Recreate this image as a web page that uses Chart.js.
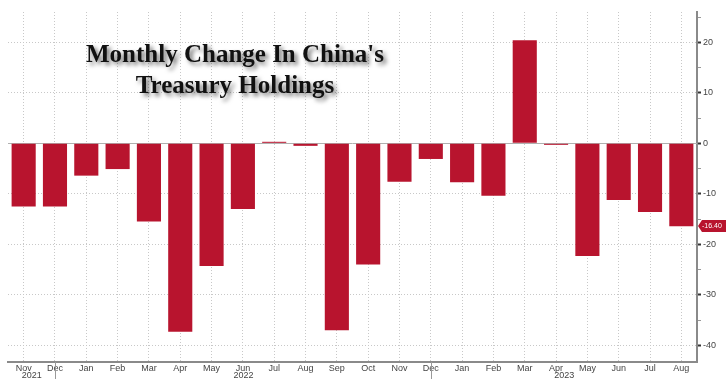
<!DOCTYPE html>
<html>
<head>
<meta charset="utf-8">
<script src="https://cdn.jsdelivr.net/npm/chart.js@4.4.0/dist/chart.umd.min.js"></script>
<style>
    html, body { margin: 0; padding: 0; background: #fff; }
</style>
</head>
<body>
<canvas id="grafico_china" width="726" height="379"></canvas>
<script>
// dados (bilhoes USD, variacao mensal)
const meses = ['Nov','Dec','Jan','Feb','Mar','Apr','May','Jun','Jul','Aug','Sep','Oct',
               'Nov','Dec','Jan','Feb','Mar','Apr','May','Jun','Jul','Aug'];
const anos = ['2021', '2022', '2023'];
const separadoresAno = [1, 13]; // indices dos "Dec" onde muda o ano
const variacao = [-12.5, -12.5, -6.4, -5.1, -15.5, -37.3, -24.3, -13.0, 0.3, -0.5, -37.0, -24.0,
                  -7.6, -3.1, -7.7, -10.4, 20.4, -0.3, -22.3, -11.2, -13.6, -16.4];
const ultimoValor = -16.40;
const tituloLinhas = ["Monthly Change In China's", 'Treasury Holdings'];

const corBarra = '#B8142E';
const fonteEixo = '"Liberation Sans Narrow", "Liberation Sans", sans-serif';

// linha do zero, titulo, anos e etiqueta do ultimo valor
const extras = {
    id: 'extras',
    beforeDatasetsDraw(chart) {
        const {ctx, chartArea, scales: {y}} = chart;
        const y0 = Math.round(y.getPixelForValue(0)) + 0.5;
        ctx.save();
        ctx.strokeStyle = '#b0b0b0';
        ctx.lineWidth = 1;
        ctx.beginPath();
        ctx.moveTo(chartArea.left, y0);
        ctx.lineTo(chartArea.right, y0);
        ctx.stroke();
        ctx.restore();
    },
    afterDraw(chart) {
        const {ctx, chartArea, scales: {x, y}} = chart;
        ctx.save();

        // titulo com sombra
        ctx.font = 'bold 25px "Liberation Serif", "Times New Roman", serif';
        ctx.textAlign = 'center';
        ctx.textBaseline = 'alphabetic';
        ctx.shadowColor = 'rgba(0,0,0,0.55)';
        ctx.shadowBlur = 4;
        ctx.shadowOffsetX = 3;
        ctx.shadowOffsetY = 3;
        ctx.fillStyle = '#111';
        ctx.fillText(tituloLinhas[0], 235, 62);
        ctx.fillText(tituloLinhas[1], 235, 93);
        ctx.shadowColor = 'transparent';

        // separadores e rotulos de ano
        const xs = separadoresAno.map(i => Math.round(x.getPixelForValue(i)) + 0.5);
        ctx.strokeStyle = '#999';
        ctx.lineWidth = 1;
        xs.forEach(px => {
            ctx.beginPath();
            ctx.moveTo(px, chartArea.bottom);
            ctx.lineTo(px, chart.height);
            ctx.stroke();
        });
        const limites = [chartArea.left, ...xs, chartArea.right];
        ctx.font = '9px ' + fonteEixo;
        ctx.fillStyle = '#444';
        ctx.textBaseline = 'middle';
        anos.forEach((a, i) => {
            ctx.fillText(a, (limites[i] + limites[i + 1]) / 2, 376);
        });

        // etiqueta vermelha do ultimo valor no eixo direito
        const py = Math.round(y.getPixelForValue(ultimoValor));
        const x0 = chartArea.right + 1;
        ctx.fillStyle = corBarra;
        ctx.beginPath();
        ctx.moveTo(x0, py);
        ctx.lineTo(x0 + 4, py - 6);
        ctx.lineTo(chart.width, py - 6);
        ctx.lineTo(chart.width, py + 6);
        ctx.lineTo(x0 + 4, py + 6);
        ctx.closePath();
        ctx.fill();
        ctx.fillStyle = '#fff';
        ctx.font = '7px ' + fonteEixo;
        ctx.textAlign = 'left';
        ctx.fillText(ultimoValor.toFixed(2), x0 + 4, py + 0.5);

        ctx.restore();
    }
};

const ctx = document.getElementById('grafico_china').getContext('2d');
new Chart(ctx, {
    type: 'bar',
    data: {
        labels: meses,
        datasets: [{
            data: variacao,
            backgroundColor: corBarra,
            borderWidth: 0,
            barPercentage: 0.77,
            categoryPercentage: 1.0
        }]
    },
    options: {
        responsive: false,
        animation: false,
        devicePixelRatio: 1,
        layout: { padding: { left: 8, top: 12, right: 0, bottom: 0 } },
        plugins: {
            legend: { display: false },
            tooltip: { enabled: false }
        },
        scales: {
            x: {
                offset: true,
                grid: {
                    offset: false,
                    color: '#c8c8c8',
                    drawTicks: false
                },
                border: { color: '#8a8a8a', width: 2, dash: [1, 2] },
                ticks: {
                    color: '#444',
                    font: { size: 9, family: fonteEixo },
                    padding: 1,
                    autoSkip: false,
                    maxRotation: 0
                },
                afterFit: (scale) => { scale.height = 17; }
            },
            y: {
                position: 'right',
                min: -43.3,
                max: 26,
                grid: {
                    color: (c) => (c.tick && c.tick.value % 10 === 0 && c.tick.value !== 0) ? '#c8c8c8' : 'transparent',
                    tickColor: (c) => (c.tick && c.tick.value % 10 === 0) ? '#333' : '#999',
                    tickWidth: (c) => (c.tick && c.tick.value % 10 === 0) ? 2 : 1,
                    tickLength: 4
                },
                border: { color: '#8a8a8a', width: 2, dash: [1, 2] },
                ticks: {
                    stepSize: 5,
                    includeBounds: false,
                    color: '#444',
                    padding: 2,
                    font: { size: 9, family: fonteEixo },
                    callback: (v) => v % 10 === 0 ? v : ''
                },
                afterFit: (scale) => { scale.width = 29; }
            }
        }
    },
    plugins: [extras]
});
</script>
</body>
</html>
